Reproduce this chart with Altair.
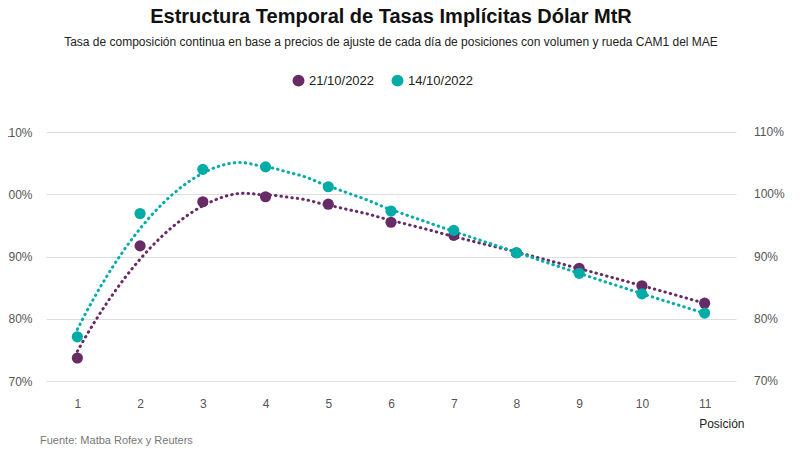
import altair as alt
import pandas as pd
import numpy as np

posiciones = list(range(1, 12))
serie_2110 = [73.7, 91.7, 98.8, 99.6, 98.4, 95.5, 93.4, 90.6, 88.1, 85.3, 82.5]
serie_1410 = [77.1, 96.9, 104.0, 104.4, 101.2, 97.3, 94.2, 90.6, 87.3, 84.0, 80.9]
series = ["21/10/2022", "14/10/2022"]
colores = ["#672b66", "#00aca5"]
ticks_y = [0.7, 0.8, 0.9, 1.0, 1.1]

def loess(x, y, grid, span=0.75):
    x = np.asarray(x, float); y = np.asarray(y, float)
    q = int(np.floor(span * len(x)))
    out = []
    for g in grid:
        d = np.abs(x - g)
        h = np.sort(d)[q - 1]
        w = np.clip(1 - (d / h) ** 3, 0, None) ** 3
        X = np.vstack([np.ones_like(x), x - g, (x - g) ** 2]).T
        W = np.diag(w)
        beta = np.linalg.lstsq(X.T @ W @ X, X.T @ W @ y, rcond=None)[0]
        out.append(beta[0])
    return out

grid = np.linspace(1, 11, 80)
pts, fit = [], []
for s, vals in zip(series, [serie_2110, serie_1410]):
    for p, v in zip(posiciones, vals):
        pts.append({"pos": p, "val": v / 100, "serie": s})
    for g, f in zip(grid, loess(posiciones, vals, grid, span=0.7)):
        fit.append({"pos": g, "val": f / 100, "serie": s})
pts = pd.DataFrame(pts); fit = pd.DataFrame(fit)

color = alt.Color("serie:N", scale=alt.Scale(domain=series, range=colores),
                  sort=series,
                  legend=alt.Legend(title=None, orient="none", direction="horizontal",
                                    legendX=246, legendY=-58, symbolType="circle",
                                    symbolSize=110, labelFontSize=13, labelColor="#222",
                                    columnPadding=14, symbolOpacity=1))
xs = alt.X("pos:Q", scale=alt.Scale(domain=[0.5, 11.5], nice=False),
           axis=alt.Axis(values=posiciones, format="d", grid=False, domain=False, ticks=False,
                         labelPadding=17, labelColor="#555", labelFontSize=12,
                         title="Posición", titleFontWeight="normal", titleFontSize=12,
                         titleColor="#222", titleAlign="right", titleAnchor="end",
                         titleX=698, titleY=37))
yscale = alt.Scale(domain=[0.7, 1.1], nice=False)
yleft = alt.Y("val:Q", scale=yscale,
              axis=alt.Axis(values=ticks_y, format=".0%", domain=False, ticks=False,
                            labelPadding=14, labelColor="#555", labelFontSize=12, title=None,
                            gridColor="#dddddd"))

lines = alt.Chart(fit).mark_line(strokeDash=[0.5, 5], strokeWidth=3, strokeCap="round").encode(
    x=xs, y=yleft, color=color, detail="serie:N")
points = alt.Chart(pts).mark_circle(size=125, opacity=1).encode(x=xs, y=yleft, color=color)
right = alt.Chart(pd.DataFrame({"val": ticks_y})).mark_text(
    align="left", baseline="middle", fontSize=12, color="#555").encode(
    x=alt.value(708), y=alt.Y("val:Q", scale=yscale), text=alt.Text("val:Q", format=".0%"))
caption = alt.Chart(pd.DataFrame({"t": ["Fuente: Matba Rofex y Reuters"]})).mark_text(
    align="left", baseline="middle", fontSize=11, color="#777").encode(
    text="t:N", x=alt.value(-6), y=alt.value(309))
title = alt.Chart(pd.DataFrame({"t": ["Estructura Temporal de Tasas Implícitas Dólar MtR"]})).mark_text(
    align="center", baseline="middle", fontSize=20, fontWeight="bold", color="#111").encode(
    text="t:N", x=alt.value(345), y=alt.value(-115))
subtitle = alt.Chart(pd.DataFrame({"t": ["Tasa de composición continua en base a precios de ajuste de cada día de posiciones con volumen y rueda CAM1 del MAE"]})).mark_text(
    align="center", baseline="middle", fontSize=12, color="#222").encode(
    text="t:N", x=alt.value(345), y=alt.value(-90))

chart = alt.layer(lines, points, right, caption, title, subtitle).properties(
    width=690, height=249,
    autosize=alt.AutoSizeParams(type="none"),
    padding={"left": 38, "top": 124, "right": 56, "bottom": 68},
).configure(font="Liberation Sans").configure_view(stroke=None)

chart.save("out.html", embed_options={"renderer": "svg", "actions": False})
